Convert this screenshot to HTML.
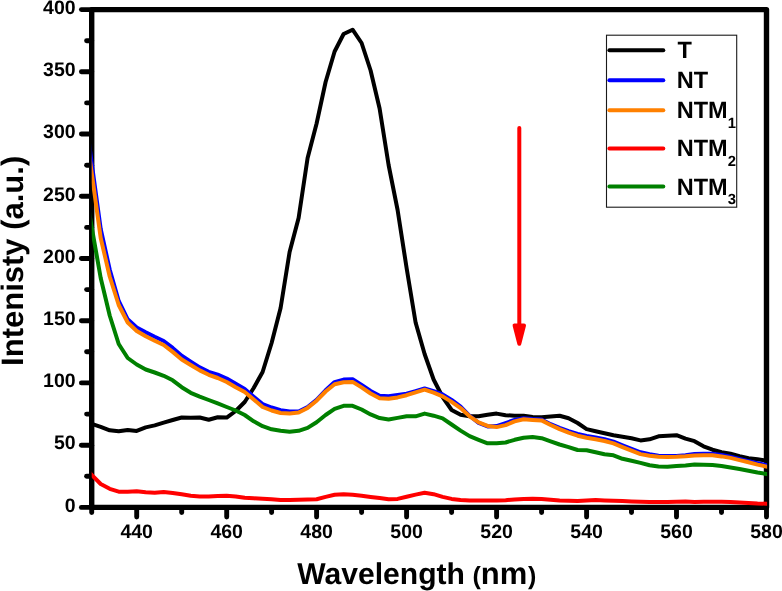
<!DOCTYPE html>
<html lang="en">
<head>
<meta charset="utf-8">
<title>Intenisty vs Wavelength</title>
<style>
html,body{margin:0;padding:0;background:#fff;}
body{width:782px;height:591px;overflow:hidden;}
svg{display:block;will-change:transform;}
text{font-family:"Liberation Sans",Arial,Helvetica,sans-serif;font-weight:bold;fill:#000;text-rendering:geometricPrecision;}
.tk text{font-size:19.5px;}
.lg text{font-size:23.5px;}
.lg .sub{font-size:14.8px;}
</style>
</head>
<body>
<svg width="782" height="591" viewBox="0 0 782 591">
<rect x="0" y="0" width="782" height="591" fill="#ffffff"/>
<!-- axis frame -->
<rect x="91.7" y="9.6" width="674.8" height="497.8" fill="none" stroke="#000" stroke-width="5.4" stroke-linejoin="round"/>
<g stroke="#000" stroke-width="4.9" stroke-linecap="round">
<line x1="81.4" y1="507.4" x2="91.7" y2="507.4"/>
<line x1="86.6" y1="476.3" x2="91.7" y2="476.3"/>
<line x1="81.4" y1="445.2" x2="91.7" y2="445.2"/>
<line x1="86.6" y1="414.1" x2="91.7" y2="414.1"/>
<line x1="81.4" y1="382.9" x2="91.7" y2="382.9"/>
<line x1="86.6" y1="351.8" x2="91.7" y2="351.8"/>
<line x1="81.4" y1="320.7" x2="91.7" y2="320.7"/>
<line x1="86.6" y1="289.6" x2="91.7" y2="289.6"/>
<line x1="81.4" y1="258.5" x2="91.7" y2="258.5"/>
<line x1="86.6" y1="227.4" x2="91.7" y2="227.4"/>
<line x1="81.4" y1="196.3" x2="91.7" y2="196.3"/>
<line x1="86.6" y1="165.2" x2="91.7" y2="165.2"/>
<line x1="81.4" y1="134.0" x2="91.7" y2="134.0"/>
<line x1="86.6" y1="102.9" x2="91.7" y2="102.9"/>
<line x1="81.4" y1="71.8" x2="91.7" y2="71.8"/>
<line x1="86.6" y1="40.7" x2="91.7" y2="40.7"/>
<line x1="81.4" y1="9.6" x2="91.7" y2="9.6"/>
<line x1="91.7" y1="507.4" x2="91.7" y2="512.5"/>
<line x1="136.7" y1="507.4" x2="136.7" y2="517.1"/>
<line x1="181.7" y1="507.4" x2="181.7" y2="512.5"/>
<line x1="226.7" y1="507.4" x2="226.7" y2="517.1"/>
<line x1="271.6" y1="507.4" x2="271.6" y2="512.5"/>
<line x1="316.6" y1="507.4" x2="316.6" y2="517.1"/>
<line x1="361.6" y1="507.4" x2="361.6" y2="512.5"/>
<line x1="406.6" y1="507.4" x2="406.6" y2="517.1"/>
<line x1="451.6" y1="507.4" x2="451.6" y2="512.5"/>
<line x1="496.6" y1="507.4" x2="496.6" y2="517.1"/>
<line x1="541.6" y1="507.4" x2="541.6" y2="512.5"/>
<line x1="586.6" y1="507.4" x2="586.6" y2="517.1"/>
<line x1="631.5" y1="507.4" x2="631.5" y2="512.5"/>
<line x1="676.5" y1="507.4" x2="676.5" y2="517.1"/>
<line x1="721.5" y1="507.4" x2="721.5" y2="512.5"/>
<line x1="766.5" y1="507.4" x2="766.5" y2="517.1"/>
</g>
<g class="tk">
<text x="75.6" y="511.6" text-anchor="end">0</text>
<text x="75.6" y="449.4" text-anchor="end">50</text>
<text x="75.6" y="387.1" text-anchor="end">100</text>
<text x="75.6" y="324.9" text-anchor="end">150</text>
<text x="75.6" y="262.7" text-anchor="end">200</text>
<text x="75.6" y="200.5" text-anchor="end">250</text>
<text x="75.6" y="138.2" text-anchor="end">300</text>
<text x="75.6" y="76.0" text-anchor="end">350</text>
<text x="75.6" y="13.8" text-anchor="end">400</text>
<text x="136.7" y="538.4" text-anchor="middle">440</text>
<text x="226.7" y="538.4" text-anchor="middle">460</text>
<text x="316.6" y="538.4" text-anchor="middle">480</text>
<text x="406.6" y="538.4" text-anchor="middle">500</text>
<text x="496.6" y="538.4" text-anchor="middle">520</text>
<text x="586.6" y="538.4" text-anchor="middle">540</text>
<text x="676.5" y="538.4" text-anchor="middle">560</text>
<text x="766.5" y="538.4" text-anchor="middle">580</text>
</g>
<!-- axis titles -->
<text x="297.2" y="583.8" font-size="30.1">Wavelength<tspan font-size="25" dx="0.6"> (</tspan><tspan font-size="31">nm</tspan><tspan font-size="25" dx="0.6">)</tspan></text>
<text transform="translate(22.8,365.9) rotate(-90)" font-size="31">Intenisty (a.u.)</text>
<!-- data curves -->
<clipPath id="plotclip"><rect x="91.7" y="0" width="675.4" height="591"/></clipPath>
<g fill="none" stroke-width="4" stroke-linejoin="round" stroke-linecap="butt" clip-path="url(#plotclip)">
<path stroke="#000000" d="M86.3 422.0 L91.7 423.8 L100.7 426.8 L109.7 430.3 L118.7 431.3 L127.7 429.9 L136.7 430.9 L145.7 427.4 L154.7 425.4 L163.7 422.7 L172.7 420.0 L181.7 417.5 L190.7 417.8 L199.7 417.5 L208.7 419.7 L217.7 417.2 L226.7 417.6 L235.7 411.0 L244.7 402.0 L253.7 388.0 L262.6 372.0 L271.6 343.0 L280.6 308.0 L289.6 252.0 L298.6 218.0 L307.6 158.0 L316.6 123.5 L325.6 82.0 L334.6 51.5 L343.6 34.0 L352.6 29.7 L361.6 43.0 L370.6 70.5 L379.6 108.5 L388.6 165.0 L397.6 210.0 L406.6 268.0 L415.6 322.5 L424.6 354.0 L433.6 379.5 L442.6 397.0 L451.6 410.0 L460.6 414.8 L469.6 416.3 L478.6 416.3 L487.6 414.8 L496.6 413.6 L505.6 415.2 L514.6 415.7 L523.6 415.7 L532.6 416.9 L541.6 417.2 L550.6 416.4 L559.6 415.8 L568.6 418.3 L577.6 423.0 L586.6 429.1 L595.6 431.2 L604.5 433.2 L613.5 435.2 L622.5 436.7 L631.5 438.3 L640.5 440.4 L649.5 439.3 L658.5 436.3 L667.5 435.7 L676.5 435.2 L685.5 438.6 L694.5 441.2 L703.5 446.3 L712.5 449.7 L721.5 452.2 L730.5 453.8 L739.5 456.2 L748.5 458.3 L757.5 459.3 L766.5 460.5 L771.9 461.2"/>
<path stroke="#0000ff" d="M86.3 123.4 L91.7 163.0 L100.7 229.0 L109.7 269.5 L118.7 301.0 L127.7 319.3 L136.7 327.4 L145.7 332.3 L154.7 336.8 L163.7 341.0 L172.7 347.9 L181.7 355.7 L190.7 361.6 L199.7 367.4 L208.7 371.8 L217.7 374.6 L226.7 378.5 L235.7 383.8 L244.7 389.0 L253.7 396.7 L262.6 404.0 L271.6 407.5 L280.6 410.2 L289.6 411.6 L298.6 411.6 L307.6 407.1 L316.6 399.9 L325.6 390.3 L334.6 382.1 L343.6 379.6 L352.6 379.2 L361.6 384.9 L370.6 391.0 L379.6 395.7 L388.6 396.3 L397.6 394.9 L406.6 393.7 L415.6 391.1 L424.6 388.5 L433.6 391.2 L442.6 394.4 L451.6 399.9 L460.6 406.6 L469.6 415.8 L478.6 422.9 L487.6 426.4 L496.6 426.1 L505.6 423.1 L514.6 419.9 L523.6 418.3 L532.6 419.1 L541.6 419.6 L550.6 424.2 L559.6 427.9 L568.6 431.1 L577.6 433.9 L586.6 435.9 L595.6 437.5 L604.5 439.2 L613.5 441.6 L622.5 445.3 L631.5 448.8 L640.5 452.3 L649.5 454.2 L658.5 455.7 L667.5 456.1 L676.5 455.9 L685.5 455.3 L694.5 453.9 L703.5 453.8 L712.5 453.7 L721.5 454.9 L730.5 456.7 L739.5 458.9 L748.5 461.1 L757.5 463.1 L766.5 465.1 L771.9 466.3"/>
<path stroke="#ff8000" d="M86.3 134.0 L91.7 173.0 L100.7 238.0 L109.7 276.5 L118.7 305.0 L127.7 322.5 L136.7 331.0 L145.7 336.3 L154.7 340.8 L163.7 345.0 L172.7 351.9 L181.7 359.5 L190.7 365.0 L199.7 370.4 L208.7 374.8 L217.7 378.0 L226.7 382.0 L235.7 387.2 L244.7 392.0 L253.7 399.5 L262.6 407.0 L271.6 410.5 L280.6 413.0 L289.6 413.6 L298.6 412.6 L307.6 407.9 L316.6 400.7 L325.6 391.5 L334.6 384.3 L343.6 382.3 L352.6 381.9 L361.6 387.4 L370.6 393.5 L379.6 398.2 L388.6 398.8 L397.6 397.4 L406.6 395.2 L415.6 392.3 L424.6 389.7 L433.6 392.7 L442.6 396.4 L451.6 401.9 L460.6 408.1 L469.6 416.3 L478.6 422.4 L487.6 425.9 L496.6 427.1 L505.6 425.1 L514.6 421.4 L523.6 419.3 L532.6 419.9 L541.6 420.4 L550.6 425.0 L559.6 429.1 L568.6 432.6 L577.6 435.7 L586.6 437.7 L595.6 439.3 L604.5 441.0 L613.5 443.4 L622.5 447.1 L631.5 450.6 L640.5 454.1 L649.5 455.7 L658.5 456.7 L667.5 456.9 L676.5 456.7 L685.5 456.3 L694.5 455.4 L703.5 455.3 L712.5 455.2 L721.5 456.4 L730.5 457.9 L739.5 460.1 L748.5 462.3 L757.5 464.6 L766.5 466.6 L771.9 467.8"/>
<path stroke="#ff0000" d="M86.3 469.4 L91.7 474.9 L100.7 484.0 L109.7 488.8 L118.7 491.7 L127.7 491.7 L136.7 491.3 L145.7 492.3 L154.7 492.7 L163.7 491.9 L172.7 492.9 L181.7 494.3 L190.7 495.8 L199.7 496.4 L208.7 496.6 L217.7 496.0 L226.7 495.8 L235.7 496.4 L244.7 497.8 L253.7 498.3 L262.6 498.7 L271.6 499.3 L280.6 500.0 L289.6 499.9 L298.6 499.7 L307.6 499.5 L316.6 499.3 L325.6 496.9 L334.6 494.8 L343.6 494.2 L352.6 494.8 L361.6 495.7 L370.6 496.9 L379.6 498.1 L388.6 499.3 L397.6 498.9 L406.6 496.7 L415.6 494.6 L424.6 492.8 L433.6 494.2 L442.6 496.9 L451.6 498.9 L460.6 500.0 L469.6 500.4 L478.6 500.5 L487.6 500.6 L496.6 500.6 L505.6 500.2 L514.6 499.5 L523.6 498.9 L532.6 498.7 L541.6 499.0 L550.6 499.7 L559.6 500.4 L568.6 500.7 L577.6 501.0 L586.6 500.4 L595.6 499.9 L604.5 500.4 L613.5 500.8 L622.5 501.1 L631.5 501.4 L640.5 501.7 L649.5 502.0 L658.5 502.0 L667.5 502.0 L676.5 501.7 L685.5 501.4 L694.5 502.0 L703.5 501.7 L712.5 501.7 L721.5 501.7 L730.5 502.1 L739.5 502.5 L748.5 503.0 L757.5 503.5 L766.5 503.7 L771.9 503.8"/>
<path stroke="#008000" d="M86.3 196.4 L91.7 227.0 L100.7 278.0 L109.7 315.5 L118.7 344.0 L127.7 358.0 L136.7 364.5 L145.7 369.5 L154.7 372.5 L163.7 375.8 L172.7 380.3 L181.7 387.2 L190.7 392.8 L199.7 396.6 L208.7 400.0 L217.7 403.4 L226.7 407.0 L235.7 410.5 L244.7 415.0 L253.7 421.3 L262.6 426.2 L271.6 429.3 L280.6 430.8 L289.6 431.8 L298.6 430.8 L307.6 427.9 L316.6 422.2 L325.6 415.0 L334.6 408.9 L343.6 405.8 L352.6 405.8 L361.6 409.5 L370.6 414.4 L379.6 418.1 L388.6 419.5 L397.6 417.9 L406.6 416.3 L415.6 416.3 L424.6 413.6 L433.6 415.7 L442.6 418.3 L451.6 424.5 L460.6 430.6 L469.6 436.1 L478.6 439.8 L487.6 443.3 L496.6 443.3 L505.6 442.5 L514.6 439.8 L523.6 437.7 L532.6 437.1 L541.6 438.2 L550.6 441.4 L559.6 444.5 L568.6 447.1 L577.6 450.0 L586.6 450.2 L595.6 452.2 L604.5 454.3 L613.5 455.3 L622.5 458.8 L631.5 460.8 L640.5 462.9 L649.5 465.3 L658.5 466.5 L667.5 466.8 L676.5 466.1 L685.5 465.5 L694.5 464.6 L703.5 464.8 L712.5 465.0 L721.5 466.0 L730.5 467.4 L739.5 469.0 L748.5 470.7 L757.5 472.5 L766.5 473.9 L771.9 474.7"/>
</g>
<!-- arrow -->
<g stroke="#ff0000" fill="#ff0000" stroke-width="4" stroke-linecap="round" stroke-linejoin="round">
<line x1="519.3" y1="128" x2="519.3" y2="330"/>
<path d="M514.6 325.4 L524 325.4 L519.3 343.7 Z"/>
</g>
<!-- legend -->
<g class="lg">
<rect x="606.5" y="35.2" width="130.2" height="172" fill="#fff" stroke="#1a1a1a" stroke-width="1.1"/>
<g stroke-width="4" stroke-linecap="round">
<line x1="609.4" y1="50.2" x2="663.3" y2="50.2" stroke="#000"/>
<line x1="609.4" y1="80.3" x2="663.3" y2="80.3" stroke="#0000ff"/>
<line x1="609.4" y1="110.3" x2="663.3" y2="110.3" stroke="#ff8000"/>
<line x1="609.4" y1="148.5" x2="663.3" y2="148.5" stroke="#ff0000"/>
<line x1="609.4" y1="186.5" x2="663.3" y2="186.5" stroke="#008000"/>
</g>
<text x="677.4" y="58.2">T</text>
<text x="676.8" y="88.2">NT</text>
<text x="676.8" y="118.3">NTM<tspan class="sub" dy="9.5">1</tspan></text>
<text x="676.8" y="156.3">NTM<tspan class="sub" dy="9.5">2</tspan></text>
<text x="676.8" y="194.8">NTM<tspan class="sub" dy="9.5">3</tspan></text>
</g>
</svg>
</body>
</html>
